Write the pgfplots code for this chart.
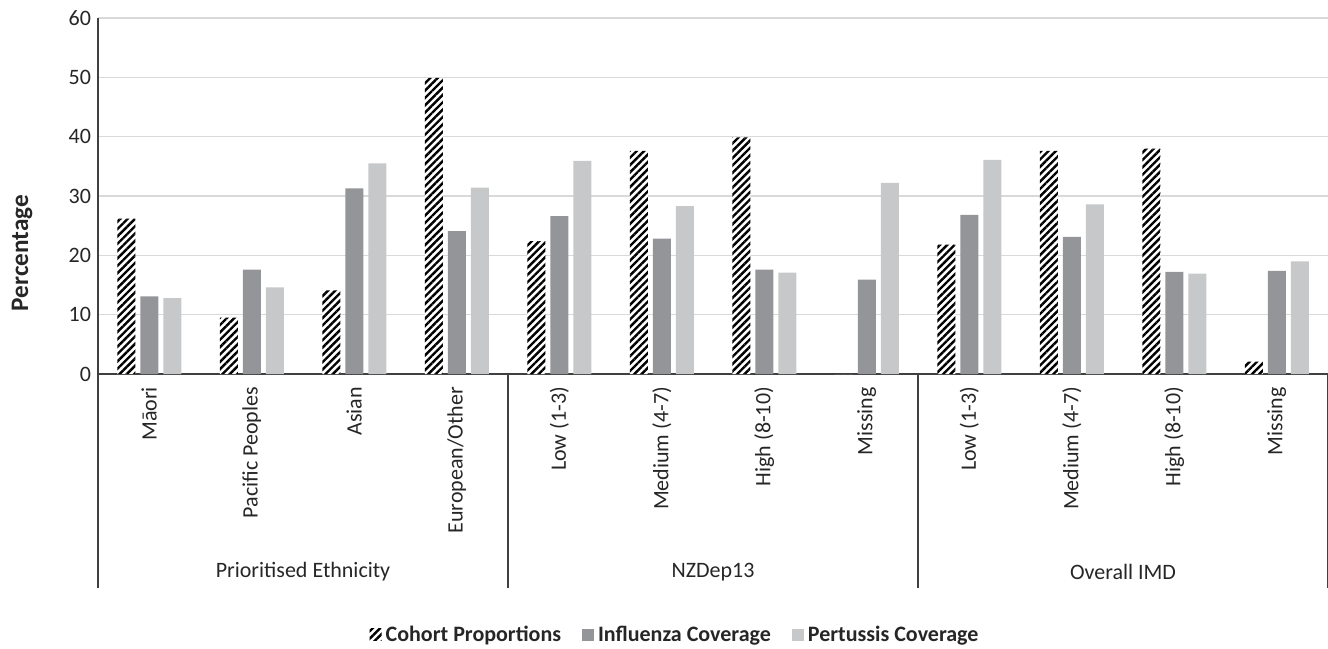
\documentclass[border=0pt]{standalone}
\usepackage{fontspec}
\setmainfont{Carlito}
\usepackage{pgfplots}
\usepackage{pgfplotstable}
\pgfplotsset{compat=1.18}
\usetikzlibrary{patterns.meta}
\definecolor{flu}{HTML}{939598}
\definecolor{per}{HTML}{C7C8CA}
\definecolor{gridc}{HTML}{D9D9D9}
\definecolor{axl}{HTML}{404040}
\definecolor{txt}{HTML}{262626}

\pgfplotstableread{
x cohort flu per
0 26.2 13.1 12.8
1 9.5 17.6 14.6
2 14.1 31.3 35.5
3 49.9 24.1 31.4
4 22.4 26.6 35.9
5 37.6 22.8 28.3
6 39.9 17.6 17.1
7 0 15.9 32.2
8 21.8 26.8 36.1
9 37.6 23.1 28.6
10 38.0 17.2 16.9
11 2.1 17.4 19.0
}\data

\begin{document}
\begin{tikzpicture}
\useasboundingbox (-49pt,-137pt) rectangle (615pt,187pt);
\begin{axis}[
  scale only axis, width=615pt, height=178pt,
  xmin=-0.5, xmax=11.5, ymin=0, ymax=60,
  ytick={0,10,...,60},
  xtick={0,...,11},
  xticklabels={Māori, Pacific Peoples, Asian, European/Other, Low (1-3), Medium (4-7), High (8-10), Missing, Low (1-3), Medium (4-7), High (8-10), Missing},
  xticklabel style={rotate=90, anchor=east, font=\fontsize{11}{13}\selectfont, text=txt},
  xticklabel shift=3pt,
  yticklabel style={font=\fontsize{11}{13}\selectfont, text=txt},
  /pgf/number format/assume math mode=true,
  major tick length=0pt,
  axis x line*=bottom, axis y line*=left,
  axis line style={axl, line width=0.75pt, -},
  ymajorgrids, grid style={gridc, line width=0.75pt},
  ybar=2.5pt, bar width=9pt,
  ylabel={Percentage},
  ylabel style={at={(axis description cs:-0.0618,0.34)}, anchor=center, font=\bfseries\fontsize{12.6}{15}\selectfont, text=txt},
  legend style={at={(0.47,-0.733)}, anchor=center, legend columns=3, draw=none, fill=none,
    font=\bfseries\fontsize{11}{13}\selectfont, text=txt,
    /tikz/every even column/.append style={column sep=8.5pt}},
  legend image code/.code={\draw[#1, draw=none] (0pt,-3pt) rectangle (6pt,3pt);},
  clip=false,
]
\addplot[draw=none, fill=white, postaction={pattern={Lines[angle=45, distance=2.6pt, line width=1.2pt]}, pattern color=black}] table[x=x, y=cohort] {\data};
\addplot[draw=none, fill=flu] table[x=x, y=flu] {\data};
\addplot[draw=none, fill=per] table[x=x, y=per] {\data};
\legend{Cohort Proportions, Influenza Coverage, Pertussis Coverage}
\draw[axl, line width=0.75pt] (axis cs:-0.5,0) -- ([yshift=-107pt]axis cs:-0.5,0);
\draw[axl, line width=0.75pt] (axis cs:3.5,0) -- ([yshift=-107pt]axis cs:3.5,0);
\draw[axl, line width=0.75pt] (axis cs:7.5,0) -- ([yshift=-107pt]axis cs:7.5,0);
\draw[axl, line width=0.75pt] (axis cs:11.5,0) -- ([yshift=-107pt]axis cs:11.5,0);
\node[font=\fontsize{11}{13}\selectfont, text=txt] at ([yshift=-99pt]axis cs:1.5,0) {Prioritised Ethnicity};
\node[font=\fontsize{11}{13}\selectfont, text=txt] at ([yshift=-99pt]axis cs:5.5,0) {NZDep13};
\node[font=\fontsize{11}{13}\selectfont, text=txt] at ([yshift=-99pt]axis cs:9.5,0) {Overall IMD};
\end{axis}
\end{tikzpicture}
\end{document}
